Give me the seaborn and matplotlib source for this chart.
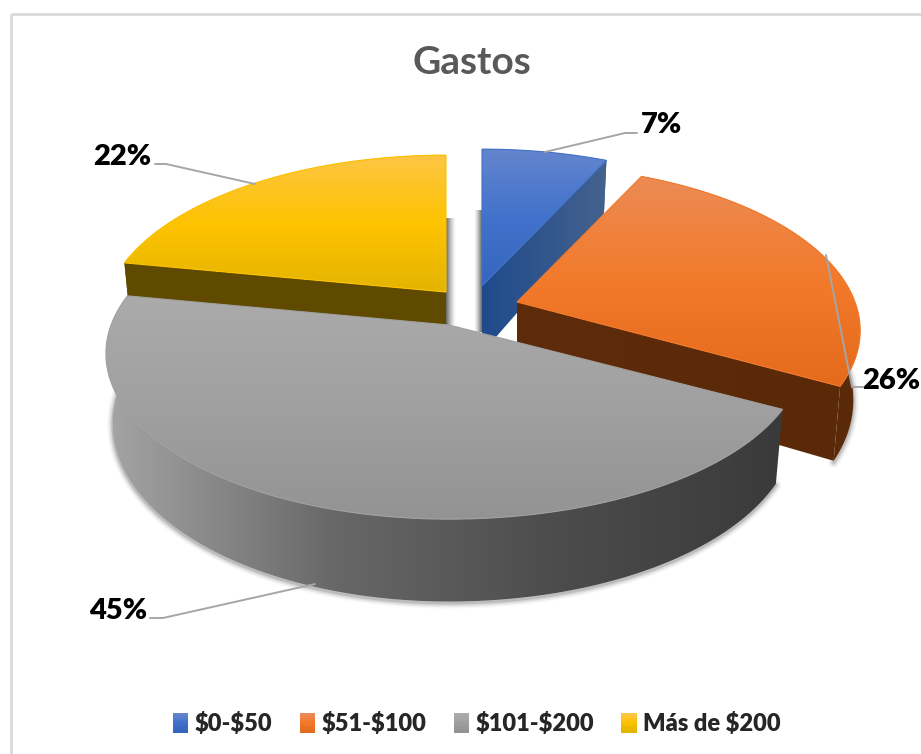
import numpy as np
import matplotlib
matplotlib.use("Agg")
import matplotlib.pyplot as plt
import seaborn as sns
from matplotlib.colors import LinearSegmentedColormap
from matplotlib.legend_handler import HandlerBase
from matplotlib.patches import Patch, Polygon, Rectangle

# Data
categories = ["$0-$50", "$51-$100", "$101-$200", "Más de $200"]
shares = [7, 26, 45, 22]
share_labels = ["7%", "26%", "45%", "22%"]

# Styles for each slice: gradient on the top face, colour of the side
top_colors = [
    ["#6485CE", "#4272CB", "#3566BE"],
    ["#EC8B55", "#F27A2A", "#E46A1C"],
    ["#ABABAB", "#A0A0A0", "#939393"],
    ["#FDC644", "#FEC300", "#E3B400"],
]
wall_colors = [
    ["#1F4A8B", "#44628F"],
    ["#5E2C0A", "#5A2908"],
    ["#A5A5A5", "#686868", "#4C4C4C", "#3A3A3A"],
    ["#5F4A00", "#5F4A00"],
]
legend_colors = ["#4472C4", "#ED7D31", "#A5A5A5", "#FFC000"]

# Where each exploded slice has its tip, in pixels
tips = [(482, 286), (517, 302), (449, 325), (446, 292)]
# the big grey slice is drawn a bit wider on its right side
stretch = [(1.0, 0.0), (1.0, 0.0), (1.016, 0.016), (1.0, 0.0)]
RADIUS = 338
TILT = 0.475
PERSPECTIVE = 0.173
THICKNESS = 67

sns.set_theme(style="white")
plt.rcParams["font.family"] = ["Lato", "DejaVu Sans"]
palette = sns.color_palette(legend_colors)

fig = plt.figure(figsize=(9.21, 7.54), dpi=100)
ax = fig.add_axes([0, 0, 1, 1])
ax.set_axis_off()


def project(theta, tip, wide=(1.0, 0.0), bottom=False):
    # theta runs clockwise from 12 o'clock, the far side of the disc
    u, v = np.sin(theta), np.cos(theta)
    s = 1 / (1 + PERSPECTIVE * v)
    x = RADIUS * u * s * wide[0] * (1 + wide[1] * np.sign(u))
    y = -RADIUS * TILT * v * s
    if bottom:
        return tip[0] + 0.98 * x, tip[1] + y + THICKNESS * (1 - 0.23 * v)
    return tip[0] + x, tip[1] + y


def fill_gradient(points, colors, z, horizontal=False, outline=False):
    points = np.asarray(points)
    cmap = LinearSegmentedColormap.from_list("g", colors)
    ramp = np.linspace(0, 1, 256)
    img = ramp[None, :] if horizontal else ramp[:, None]
    x0, y0 = points.min(axis=0)
    x1, y1 = points.max(axis=0)
    im = ax.imshow(img, cmap=cmap, extent=(x0, x1, y1, y0), origin="upper",
                   aspect="auto", zorder=z, interpolation="bilinear")
    patch = Polygon(points, closed=True, transform=ax.transData)
    im.set_clip_path(patch)
    if outline:
        # soft outline so the clipped edge is not jagged
        ax.add_patch(Polygon(points, closed=True, fill=False, lw=0.8, zorder=z,
                             edgecolor=colors[len(colors) // 2]))


def strip_shadow(x0, x1, y0, y1, z):
    # dark next to the slice, fading out to white
    rgba = np.zeros((1, 64, 4))
    rgba[..., :3] = 0.3
    rgba[..., 3] = np.linspace(0.9, 0, 64) ** 1.4
    ax.imshow(rgba, extent=(x0, x1, y1, y0), aspect="auto", zorder=z,
              interpolation="bilinear")


class GradientSwatch(HandlerBase):
    def create_artists(self, legend, orig_handle, xdescent, ydescent, width, height, fontsize, trans):
        cmap = LinearSegmentedColormap.from_list("s", top_colors[orig_handle.swatch])
        n = 8
        return [Rectangle((-xdescent, -ydescent + height * (n - 1 - k) / n), width, height / n + 0.3,
                          facecolor=cmap(k / (n - 1)), edgecolor="none", transform=trans)
                for k in range(n)]


edges = np.cumsum([0] + shares) / sum(shares) * 2 * np.pi

# Frame around the chart
ax.add_patch(Rectangle((11, 14), 1000, 900, fill=False, edgecolor="#D9D9D9", lw=2, zorder=0))

strip_shadow(tips[3][0], tips[3][0] + 10, 218, 325, 1)
strip_shadow(tips[0][0], tips[0][0] - 8, 210, 332, 1)

z = 2
for i in [0, 1, 3, 2]:
    tip = tips[i]
    theta = np.linspace(edges[i], edges[i + 1], 160)
    top = np.column_stack(project(theta, tip, stretch[i]))
    low = np.column_stack(project(theta, tip, stretch[i], bottom=True))

    # soft shadow under the outer wall
    if i in (1, 2):
        for lw, a in [(8, 0.03), (6, 0.05), (4, 0.08), (2, 0.12)]:
            ax.plot(low[:, 0], low[:, 1] + 1.5, color="black", lw=lw, alpha=a,
                    zorder=z, solid_capstyle="round")
    z += 1

    # outer wall
    fill_gradient(np.vstack([top, low[::-1]]), wall_colors[i], z, horizontal=True)
    z += 1

    # the cut face that looks towards the viewer
    cut = 0 if i == 3 else -1
    face = [tip, top[cut], low[cut], (tip[0], tip[1] + THICKNESS)]
    fill_gradient(face, wall_colors[i], z, horizontal=True)
    z += 1

    # top face
    fill_gradient(np.vstack([[tip], top]), top_colors[i], z, outline=True)
    z += 1

# Labels with their leader lines
leaders = [
    [(545, 152), (625, 133), (637, 133)],
    [(826, 255), (852, 387), (863, 387)],
    [(315, 584), (163, 618), (150, 618)],
    [(255, 184), (166, 164), (155, 164)],
]
label_pos = [(661, 125), (920, 381), (118, 611), (122, 157)]
label_align = ["center", "right", "center", "center"]
for i, label in enumerate(share_labels):
    xs, ys = zip(*leaders[i])
    ax.plot(xs, ys, color="#A6A6A6", lw=1.4, zorder=40)
    ax.text(label_pos[i][0], label_pos[i][1], label, ha=label_align[i], va="center",
            fontsize=21, fontweight="heavy", color="black", zorder=41)

ax.text(472, 63, "Gastos", ha="center", va="center", fontsize=28,
        fontweight="bold", color="#595959", zorder=41)

ax.set_xlim(0, 921)
ax.set_ylim(754, 0)

handles = []
for i in range(4):
    handle = Patch(facecolor=palette[i], label=categories[i].replace("$", r"\$"))
    handle.swatch = i
    handles.append(handle)
ax.legend(handles=handles, ncol=4, loc="center", bbox_to_anchor=(477 / 921, 1 - 723.5 / 754),
          frameon=False, prop={"weight": "heavy", "size": 17}, handlelength=0.65,
          handleheight=0.9, handletextpad=0.28, columnspacing=1.15,
          handler_map={Patch: GradientSwatch()})

fig.savefig("out.png", dpi=100)
